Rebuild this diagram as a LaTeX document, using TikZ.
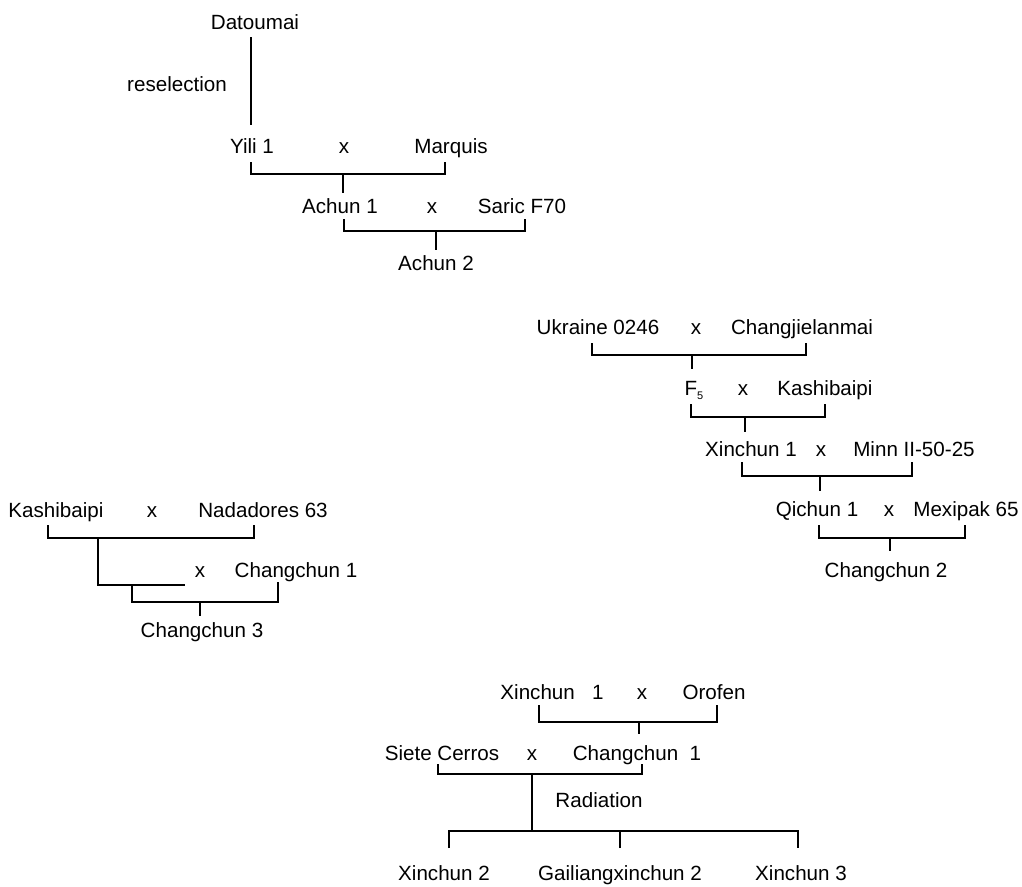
\documentclass[tikz,border=0pt]{standalone}
\usepackage{fontspec}
\setmainfont{Liberation Sans}
\begin{document}
\begin{tikzpicture}[x=1pt,y=-1pt,
  lbl/.style={anchor=base,inner sep=0pt,font=\fontsize{20.6}{24}\selectfont},
  ln/.style={line width=1.9pt,line join=miter}]
\useasboundingbox (0,0) rectangle (1022,886);
% ---------- top tree ----------
\node[lbl] (datoumai) at (255,29.5) {Datoumai};
\node[lbl] (resel) at (177,91) {reselection};
\node[lbl] (yili) at (252,153) {Yili 1};
\node[lbl] (xa) at (344,153) {x};
\node[lbl] (marquis) at (451,153) {Marquis};
\node[lbl] (achun1) at (340,213) {Achun 1};
\node[lbl] (xb) at (432,213) {x};
\node[lbl] (saric) at (522,213) {Saric F70};
\node[lbl] (achun2) at (436,270) {Achun 2};
\coordinate (d1) at (251,37); \coordinate (d2) at (251,125);
\draw[ln] (d1) -- (d2);
\coordinate (b1l) at (251,162); \coordinate (b1r) at (445,162); \coordinate (b1m) at (343,174); \coordinate (b1d) at (343,193);
\draw[ln] (b1l) |- (b1r |- b1m) -- (b1r);
\draw[ln] (b1m) -- (b1d);
\coordinate (b2l) at (344,219); \coordinate (b2r) at (525,219); \coordinate (b2m) at (436,231); \coordinate (b2d) at (436,250);
\draw[ln] (b2l) |- (b2r |- b2m) -- (b2r);
\draw[ln] (b2m) -- (b2d);
% ---------- right tree ----------
\node[lbl] (ukraine) at (598,334) {Ukraine 0246};
\node[lbl] (xc) at (696,334) {x};
\node[lbl] (changj) at (802,334) {Changjielanmai};
\node[lbl] (f5) at (694,395) {F\raisebox{-4pt}{\fontsize{11}{12}\selectfont 5}};
\node[lbl] (xd) at (743,395) {x};
\node[lbl] (kashi1) at (825,395) {Kashibaipi};
\node[lbl] (xinchun1) at (751,456) {Xinchun 1};
\node[lbl] (xe) at (821,456) {x};
\node[lbl] (minn) at (914,456) {Minn II-50-25};
\node[lbl] (qichun) at (817,516) {Qichun 1};
\node[lbl] (xf) at (889,516) {x};
\node[lbl] (mexipak) at (966,516) {Mexipak 65};
\node[lbl] (changchun2) at (886,577) {Changchun 2};
\coordinate (b3l) at (592,343); \coordinate (b3r) at (806,343); \coordinate (b3m) at (692,355); \coordinate (b3d) at (692,369);
\draw[ln] (b3l) |- (b3r |- b3m) -- (b3r);
\draw[ln] (b3m) -- (b3d);
\coordinate (b4l) at (691,404); \coordinate (b4r) at (825,404); \coordinate (b4m) at (745,417); \coordinate (b4d) at (745,432);
\draw[ln] (b4l) |- (b4r |- b4m) -- (b4r);
\draw[ln] (b4m) -- (b4d);
\coordinate (b5l) at (742,462); \coordinate (b5r) at (912,462); \coordinate (b5m) at (820,476); \coordinate (b5d) at (820,491);
\draw[ln] (b5l) |- (b5r |- b5m) -- (b5r);
\draw[ln] (b5m) -- (b5d);
\coordinate (b6l) at (819,525); \coordinate (b6r) at (965,525); \coordinate (b6m) at (890,538); \coordinate (b6d) at (890,551);
\draw[ln] (b6l) |- (b6r |- b6m) -- (b6r);
\draw[ln] (b6m) -- (b6d);
% ---------- left tree ----------
\node[lbl] (kashi2) at (56,517) {Kashibaipi};
\node[lbl] (xg) at (152,517) {x};
\node[lbl] (nadadores) at (263,517) {Nadadores 63};
\node[lbl] (xh) at (200,577) {x};
\node[lbl] (changchun1a) at (296,577) {Changchun 1};
\node[lbl] (changchun3) at (202,637) {Changchun 3};
\coordinate (b7l) at (48,525); \coordinate (b7r) at (254,525); \coordinate (b7m) at (98,538); \coordinate (b7c) at (98,585); \coordinate (b7e) at (185,585);
\draw[ln] (b7l) |- (b7r |- b7m) -- (b7r);
\draw[ln] (b7m) |- (b7e);
\coordinate (b8l) at (132,585); \coordinate (b8r) at (278,582); \coordinate (b8m) at (200,602); \coordinate (b8d) at (200,616);
\draw[ln] (b8l) |- (b8r |- b8m) -- (b8r);
\draw[ln] (b8m) -- (b8d);
% ---------- bottom tree ----------
\node[lbl] (xinchun1b) at (552,699) {Xinchun\ \ \ 1};
\node[lbl] (xi) at (642,699) {x};
\node[lbl] (orofen) at (714,699) {Orofen};
\node[lbl] (siete) at (442,760) {Siete Cerros};
\node[lbl] (xj) at (532,760) {x};
\node[lbl] (changchun1b) at (637,760) {Changchun\ \ 1};
\node[lbl] (radiation) at (599,807) {Radiation};
\node[lbl] (xinchun2) at (444,880) {Xinchun 2};
\node[lbl] (gailiang) at (620,880) {Gailiangxinchun 2};
\node[lbl] (xinchun3) at (801,880) {Xinchun 3};
\coordinate (b9l) at (539,705); \coordinate (b9r) at (717,705); \coordinate (b9m) at (639,722); \coordinate (b9d) at (639,734);
\draw[ln] (b9l) |- (b9r |- b9m) -- (b9r);
\draw[ln] (b9m) -- (b9d);
\coordinate (b10l) at (438,764); \coordinate (b10r) at (642,764); \coordinate (b10m) at (532,774); \coordinate (b10d) at (532,831);
\draw[ln] (b10l) |- (b10r |- b10m) -- (b10r);
\draw[ln] (b10m) -- (b10d);
\coordinate (b11l) at (449,848); \coordinate (b11c) at (620,848); \coordinate (b11r) at (798,848);
\draw[ln] (b11l) |- (b11r |- b10d) -- (b11r);
\draw[ln] (b11c) -- (b11c |- b10d);
\end{tikzpicture}
\end{document}
